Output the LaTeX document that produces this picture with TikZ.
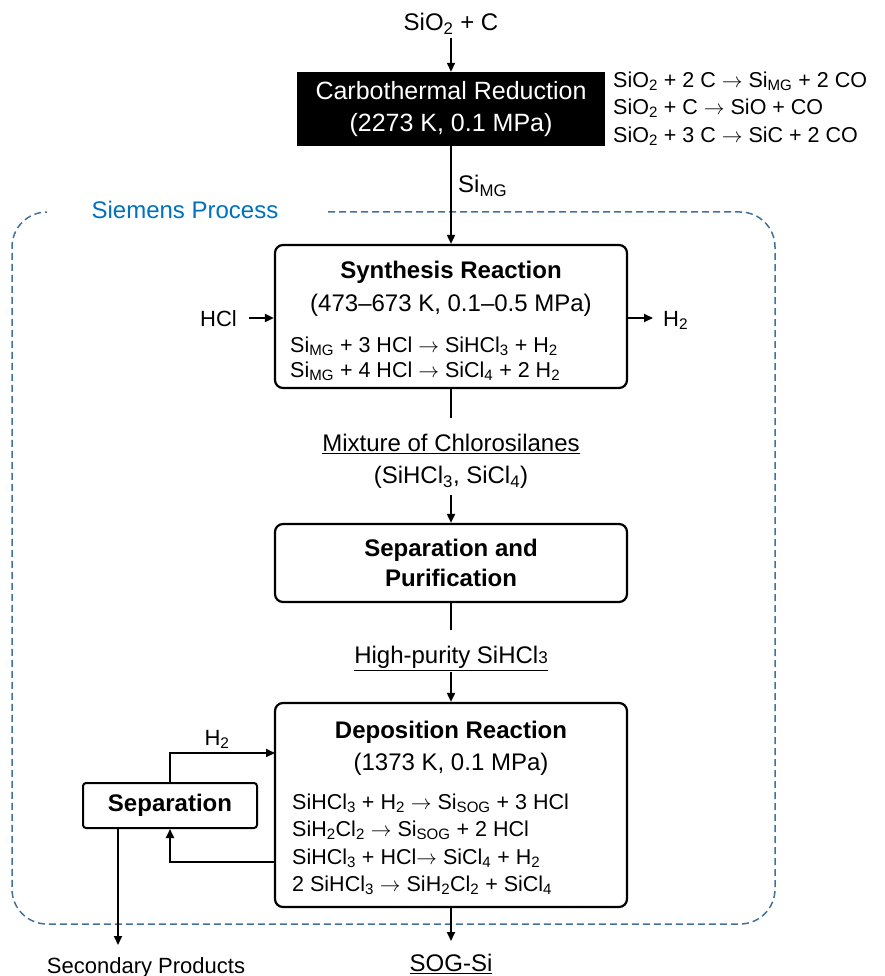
\documentclass[tikz,border=0pt]{standalone}
\usepackage{fontspec}
\setmainfont{Liberation Sans}
\usetikzlibrary{arrows.meta}
\newcommand{\sbs}[1]{\textsubscript{#1}}
\newcommand{\rxarr}{\ensuremath{\rightarrow}}
\definecolor{frameblue}{RGB}{65,113,156}
\definecolor{titleblue}{RGB}{0,112,192}
\begin{document}
\begin{tikzpicture}[x=1pt,y=-1pt,
  big/.style={font=\fontsize{25}{32}\selectfont},
  mid/.style={font=\fontsize{24}{30}\selectfont, inner sep=0pt, anchor=base},
  midb/.style={font=\bfseries\fontsize{24}{30}\selectfont, inner sep=0pt, anchor=base},
  rx/.style={font=\fontsize{21.5}{27}\selectfont, inner sep=0pt, anchor=base west},
  sm/.style={font=\fontsize{22}{27}\selectfont, inner sep=0pt, anchor=base},
  bx/.style={draw, line width=2.2pt, rounded corners=8pt, inner sep=0pt},
  conn/.style={line width=1.8pt},
  arr/.style={conn, -{Triangle[length=9pt,width=8pt]}},
  frame/.style={draw=frameblue, line width=1.5pt, dash pattern=on 7pt off 4pt, rounded corners=35pt}]
\useasboundingbox (0,0) rectangle (885,976);

% Siemens frame
\draw[frame] (328,212) -- (775,212) -- (775,924) -- (12,924) -- (12,212) -- (47,212);
\node[font=\fontsize{24}{30}\selectfont, text=titleblue, inner sep=0pt, anchor=base] (siem) at (185,218.5) {Siemens Process};

% Carbothermal reduction
\node[mid] (sio) at (451,31) {SiO\sbs{2} + C};
\node[fill=black, text=white, minimum width=308pt, minimum height=74pt, inner sep=0pt, align=center, big] (cr) at (451,109) {Carbothermal Reduction\\(2273 K, 0.1 MPa)};
\draw[arr, shorten <=3pt] (sio.south) -- (cr.north);
\node[rx] (r1) at (613,87.5) {SiO\sbs{2} + 2 C \rxarr{} Si\sbs{MG} + 2 CO};
\node[rx] (r2) at (613,114.5) {SiO\sbs{2} + C \rxarr{} SiO + CO};
\node[rx] (r3) at (613,142.5) {SiO\sbs{2} + 3 C \rxarr{} SiC + 2 CO};
\node[mid, anchor=base west] (simg) at (458,193) {Si\sbs{MG}};

% Synthesis
\node[bx, minimum width=352pt, minimum height=143pt] (syn) at (451,316.5) {};
\draw[arr] (cr.south) -- (syn.north);
\node[midb] (synt) at (451,278.5) {Synthesis Reaction};
\node[mid] (syns) at (451,311.5) {(473–673 K, 0.1–0.5 MPa)};
\node[rx] (s1) at (290,352.5) {Si\sbs{MG} + 3 HCl \rxarr{} SiHCl\sbs{3} + H\sbs{2}};
\node[rx] (s2) at (290,377.5) {Si\sbs{MG} + 4 HCl \rxarr{} SiCl\sbs{4} + 2 H\sbs{2}};
\node[sm, anchor=base east] (hcl) at (237,326) {HCl};
\draw[arr] (249,318) -- (syn.west |- 0,318);
\node[sm, anchor=base west] (h2o) at (663,326) {H\sbs{2}};
\coordinate (h2c) at (653,318);
\draw[arr] (syn.east |- h2c) -- (h2c);

% Mixture
\coordinate (m1) at (451,418);
\draw[conn] (syn.south) -- (m1);
\node[mid] (mix) at (451,451.5) {\underline{Mixture of Chlorosilanes}};
\node[mid] (mixs) at (451,483.5) {(SiHCl\sbs{3}, SiCl\sbs{4})};
\coordinate (m2) at (451,495);

% Separation and purification
\node[bx, minimum width=352pt, minimum height=78pt] (sp) at (451,563) {};
\draw[arr] (m2) -- (sp.north);
\node[midb] (spa) at (451,556.5) {Separation and};
\node[midb] (spb) at (451,586.5) {Purification};
\coordinate (p1) at (451,630);
\draw[conn] (sp.south) -- (p1);
\node[mid] (hp) at (451,663.5) {\underline{High-purity SiHCl{\fontsize{17}{20}\selectfont 3}}};
\coordinate (p2) at (451,672);

% Deposition
\node[bx, minimum width=352pt, minimum height=204pt] (dep) at (451,805) {};
\draw[arr] (p2) -- (dep.north);
\node[midb] (dept) at (451,738.5) {Deposition Reaction};
\node[mid] (deps) at (451,770.5) {(1373 K, 0.1 MPa)};
\node[rx] (d1) at (292,809.5) {SiHCl\sbs{3} + H\sbs{2} \rxarr{} Si\sbs{SOG} + 3 HCl};
\node[rx] (d2) at (292,836.5) {SiH\sbs{2}Cl\sbs{2} \rxarr{} Si\sbs{SOG} + 2 HCl};
\node[rx] (d3) at (292,864.5) {SiHCl\sbs{3} + HCl\rxarr{} SiCl\sbs{4} + H\sbs{2}};
\node[rx] (d4) at (292,891.5) {2 SiHCl\sbs{3} \rxarr{} SiH\sbs{2}Cl\sbs{2} + SiCl\sbs{4}};

% Separation loop
\node[draw, line width=2pt, rounded corners=3pt, minimum width=174pt, minimum height=45pt, inner sep=0pt, font=\bfseries\fontsize{24}{30}\selectfont] (sepa) at (170,805.5) {Separation};
\coordinate (h2in) at (275,753);
\draw[arr] (sepa.north) |- (h2in);
\node[sm] (h2l) at (217,745) {H\sbs{2}};
\coordinate (rt) at (275,862);
\draw[arr] (rt) -| (sepa.south);
\coordinate (secp) at (118,945);
\draw[arr] (sepa.south -| secp) -- (secp);
\node[sm] (sec) at (146,973) {Secondary Products};
\coordinate (sogc) at (451,941);
\draw[arr] (dep.south) -- (sogc);
\node[mid] (sog) at (451,971.5) {\underline{SOG-Si}};
\end{tikzpicture}
\end{document}
